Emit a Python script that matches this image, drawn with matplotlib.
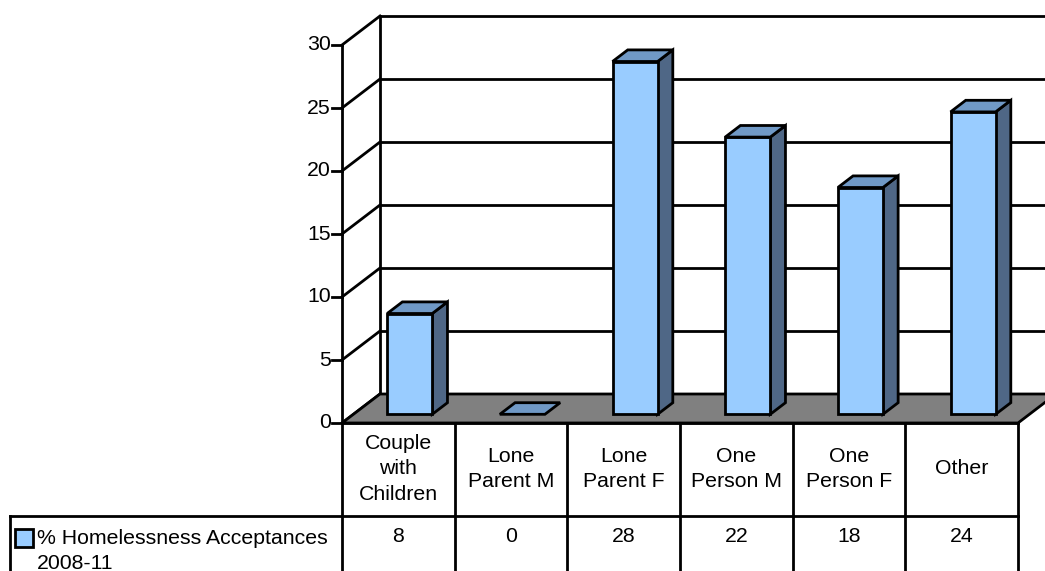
import numpy as np
import matplotlib
matplotlib.use('Agg')
from matplotlib import pyplot as plt
from matplotlib.patches import Polygon, Rectangle
from matplotlib.lines import Line2D
from matplotlib import transforms

plt.rcParams['font.family'] = ['Liberation Sans', 'DejaVu Sans']

categories = ['Couple\nwith\nChildren', 'Lone\nParent M', 'Lone\nParent F',
              'One\nPerson M', 'One\nPerson F', 'Other']
values = [8, 0, 28, 22, 18, 24]
yticks = [0, 5, 10, 15, 20, 25, 30]
series_name = '% Homelessness Acceptances\n2008-11'

FRONT = '#99ccff'
TOP = '#7099c6'
SIDE = '#4f6786'
FLOOR = '#808080'
LW = 2.0
FS = 15.3
LS = 1.42

W, H = 1045, 571
fig = plt.figure(figsize=(W / 100, H / 100), dpi=100)

# front plane of the plot: x in category units, y in value units
left_px, right_px, zero_px, top_px = 342, 1018, 423, 45
ax = fig.add_axes([left_px / W, 1 - zero_px / H, (right_px - left_px) / W, (zero_px - top_px) / H])
ax.set_xlim(0, len(categories))
ax.set_ylim(0, 30)
ax.axis('off')

# oblique depth offset, in data units
px_x = (right_px - left_px) / len(categories)
px_y = (zero_px - top_px) / 30
DX = 38 / px_x
DY = 29 / px_y


def proj(x, y, d):
    return (x + d * DX, y + d * DY)


def line(xs, ys, z=2, **kw):
    ax.add_line(Line2D(xs, ys, color='black', lw=LW, zorder=z, clip_on=False,
                       solid_capstyle='projecting', **kw))


n = len(categories)
far = n + 2  # walls run on past the right edge of the figure

# back wall gridlines and top edge
for t in yticks[1:]:
    x0, y0 = proj(0, t, 1)
    line([x0, far], [y0, y0], z=1)
# back wall left edge
bx, by0 = proj(0, 0, 1)
_, by1 = proj(0, 30, 1)
line([bx, bx], [by0, by1], z=1)

# side wall diagonals from the value axis
for t in yticks:
    x1, y1 = proj(0, t, 1)
    line([0, x1], [t, y1], z=1)

# floor, with the back edge carried on behind the right side
line([n, far], [DY, DY], z=1)
floor = Polygon([proj(0, 0, 0), proj(n, 0, 0), proj(n, 0, 1), proj(0, 0, 1)],
                closed=True, fc=FLOOR, ec='black', lw=LW, zorder=2, clip_on=False,
                joinstyle='miter')
ax.add_patch(floor)

# value axis with outward ticks
line([0, 0], [0, 30], z=6)
tick_len = 10 / px_x
for t in yticks:
    line([-tick_len, 0], [t, t], z=6)
    ax.text(-tick_len - 1 / px_x, t, str(t), ha='right', va='center', fontsize=FS)

# bars
d0, d1 = 0.3, 0.7
bw = 0.4
for i, v in enumerate(values):
    xa = i + 0.5 - bw / 2
    xb = i + 0.5 + bw / 2
    side = [proj(xb, 0, d0), proj(xb, 0, d1), proj(xb, v, d1), proj(xb, v, d0)]
    front = [proj(xa, 0, d0), proj(xb, 0, d0), proj(xb, v, d0), proj(xa, v, d0)]
    top = [proj(xa, v, d0), proj(xb, v, d0), proj(xb, v, d1), proj(xa, v, d1)]
    z = 3 + i * 0.01
    if v > 0:
        ax.add_patch(Polygon(side, closed=True, fc=SIDE, ec='black', lw=LW, zorder=z,
                             joinstyle='miter'))
        ax.add_patch(Polygon(front, closed=True, fc=FRONT, ec='black', lw=LW, zorder=z,
                             joinstyle='miter'))
    ax.add_patch(Polygon(top, closed=True, fc=TOP, ec='black', lw=LW, zorder=z,
                         joinstyle='miter'))

# data table under the plot
tr = transforms.blended_transform_factory(ax.transData, fig.transFigure)


def fy(px):
    return 1 - px / H


row_px = 516
legend_left = 10 / W
for k in range(n + 1):
    ax.add_line(Line2D([k, k], [fy(zero_px), fy(H + 5)], color='black', lw=LW,
                       transform=tr, clip_on=False, zorder=6))
ax.add_line(Line2D([0, n], [fy(zero_px), fy(zero_px)], color='black', lw=LW,
                   transform=tr, clip_on=False, zorder=6))
fig.add_artist(Line2D([legend_left, right_px / W], [fy(row_px), fy(row_px)],
                      color='black', lw=LW))
fig.add_artist(Line2D([legend_left, legend_left], [fy(row_px), fy(H + 5)],
                      color='black', lw=LW))

for i, (c, v) in enumerate(zip(categories, values)):
    ax.text(i + 0.5, fy(469), c, transform=tr, ha='center', va='center',
            fontsize=FS, linespacing=LS)
    ax.text(i + 0.5, fy(536), str(v), transform=tr, ha='center', va='center',
            fontsize=FS)

# series key in the table's row header
fig.add_artist(Rectangle((15 / W, fy(547)), 18 / W, 18 / H, fc=FRONT, ec='black',
                         lw=LW, transform=fig.transFigure))
fig.text(37 / W, fy(551), series_name, ha='left', va='center', fontsize=FS,
         linespacing=LS)

fig.savefig('out.png', dpi=100)
